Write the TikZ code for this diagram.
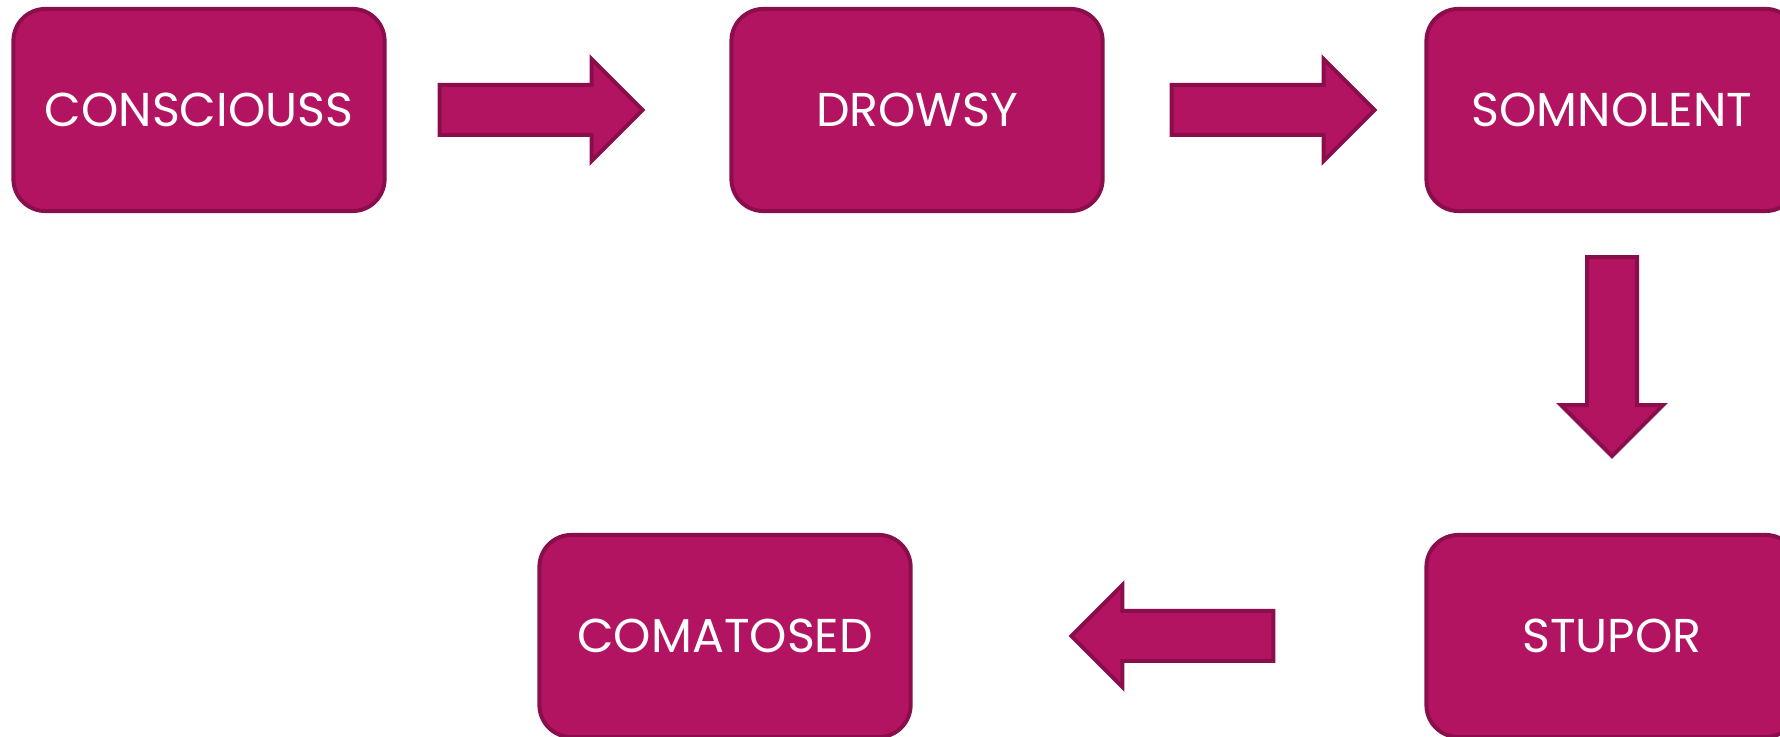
\documentclass[tikz,border=0pt]{standalone}
\usepackage{fontspec}
\setmainfont{Poppins}
\usetikzlibrary{calc}
\definecolor{boxfill}{RGB}{179,20,98}
\definecolor{boxline}{RGB}{138,14,76}
\tikzset{
	stage/.style={draw=boxline,fill=boxfill,line width=0.04cm,rounded corners=0.32cm,minimum width=3.71cm,minimum height=2.02cm,text=white,font=\fontsize{13.5}{16}\selectfont},
	blockarrow/.style={draw=boxline,fill=boxfill,line width=0.04cm}
}
\begin{document}
\begin{tikzpicture}[x=0.01cm,y=0.01cm]
	\useasboundingbox (0,0) rectangle (1780,737);
	\node[stage] (1) at (199,627) {CONSCIOUSS};
	\node[stage] (2) at (917,627) {DROWSY};
	\node[stage] (3) at (1612,627) {SOMNOLENT};
	\node[stage] (4) at (1612,101) {STUPOR};
	\node[stage] (5) at (725,101) {COMATOSED};
	\draw[blockarrow] ($(1.east)+(53,25)$) -- ++(152,0) -- ++(0,26) -- ++(51,-51) -- ++(-51,-51) -- ++(0,26) -- ++(-152,0) -- cycle;
	\draw[blockarrow] ($(2.east)+(67,25)$) -- ++(152,0) -- ++(0,26) -- ++(51,-51) -- ++(-51,-51) -- ++(0,26) -- ++(-152,0) -- cycle;
	\draw[blockarrow] ($(3.south)+(-25,-44)$) -- ++(0,-148) -- ++(-26,0) -- ++(51,-51) -- ++(51,51) -- ++(-26,0) -- ++(0,148) -- cycle;
	\draw[blockarrow] ($(4.west)+(-151,25)$) -- ++(-151,0) -- ++(0,26) -- ++(-51,-51) -- ++(51,-51) -- ++(0,26) -- ++(151,0) -- cycle;
\end{tikzpicture}
\end{document}
